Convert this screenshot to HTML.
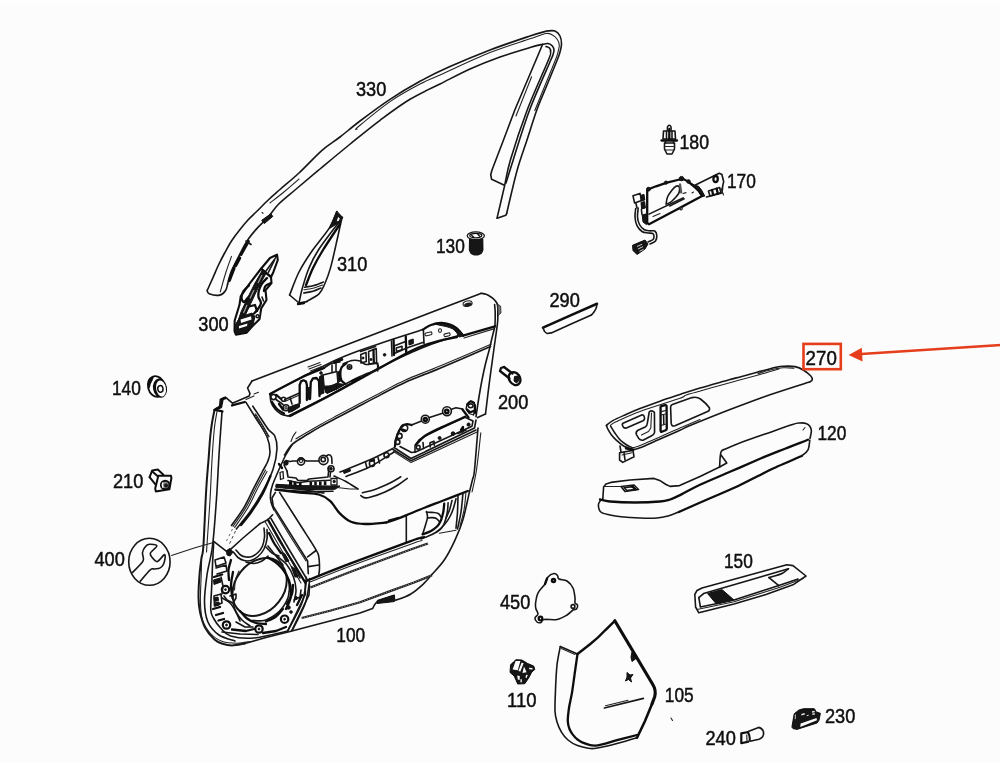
<!DOCTYPE html>
<html lang="en">
<head>
<meta charset="utf-8">
<title>Door panel parts diagram</title>
<style>
html,body{margin:0;padding:0;background:#fcfcfc;}
body{width:1000px;height:762px;overflow:hidden;position:relative;font-family:"Liberation Sans",sans-serif;}
svg{position:absolute;left:0;top:0;display:block;}
.l{fill:none;stroke:#161616;stroke-width:1.6;stroke-linecap:round;stroke-linejoin:round;}
.t{fill:none;stroke:#222;stroke-width:1.1;stroke-linecap:round;stroke-linejoin:round;}
.k{fill:none;stroke:#0c0c0c;stroke-width:2.3;stroke-linecap:round;stroke-linejoin:round;}
.f{fill:#121212;stroke:#121212;stroke-width:1;stroke-linejoin:round;}
.g{fill:#555;stroke:#222;stroke-width:1;stroke-linejoin:round;}
.w{fill:#fcfcfc;stroke:#161616;stroke-width:1.3;stroke-linejoin:round;}
.r{fill:none;stroke:#e63c1a;stroke-width:2.6;}
text{font-family:"Liberation Sans",sans-serif;font-size:21px;fill:#111;stroke:#111;stroke-width:0.5;}
</style>
</head>
<body>
<svg width="1000" height="762" viewBox="0 0 1000 762">
<defs><filter id="soft" x="-2%" y="-2%" width="104%" height="104%"><feGaussianBlur stdDeviation="0.45"/></filter></defs>
<rect x="0" y="0" width="1000" height="762" fill="#fcfcfc"/>
<rect x="0" y="0" width="1000" height="5" fill="#fefefe"/>
<g filter="url(#soft)">
<g id="p330">
<path class="l" d="M207.2,290.5 C208.2,288.3 211.2,281.6 213.1,277.4 C215,273.1 216.5,269.1 218.5,265 C220.5,260.9 222.7,256.5 224.9,252.5 C227.1,248.5 229.1,244.7 231.5,241 C233.9,237.3 236.7,233.6 239.4,230.2 C242.1,226.8 244.7,223.6 247.5,220.5 C250.3,217.4 252.9,215.2 256.4,211.8 C259.8,208.4 264.3,203.7 268.2,200 C272.1,196.3 274.9,194 280,189.5 C285.1,185 292,179.5 299,173 C306,166.5 315.2,156.3 322,150.3 C328.8,144.3 333.7,141.9 340,137 C346.3,132.1 351.7,127.3 360,121 C368.3,114.7 380,105.9 390,99.3 C400,92.7 410,86.8 420,81.3 C430,75.8 438.3,71.8 450,66.6 C461.7,61.4 476.7,55.1 490,50 C503.3,44.9 520.5,39.2 530,36 C539.5,32.8 544.2,31.8 547,31"/>
<path class="l" d="M547,31 C548.3,31 552.8,30.2 555,31 C557.2,31.8 558.9,33.8 560,36 C561.1,38.2 561.5,41.3 561.5,44 C561.5,46.7 560.7,49.3 560,52 C559.3,54.7 559.4,54.5 557.2,60 C555,65.5 550.4,76.7 547,85 C543.6,93.3 540.1,100.8 536.8,110 C533.5,119.2 530.3,130 527,140 C523.7,150 520.6,157.8 517.2,170 C513.8,182.2 508.4,206.1 506.7,213.3"/>
<path class="l" d="M506.7,213.3 L505.8,215.3 L497.1,218.3"/>
<path class="l" d="M207.2,290.5 C207.5,291.1 207.1,293 209.2,293.8 C211.3,294.6 217,295.7 219.7,295.1 C222.4,294.6 224.3,292.4 225.6,290.5 C226.9,288.6 227.3,285.1 227.6,284"/>
<path class="l" d="M227.6,284 C228.2,281.8 229.5,275.7 231.5,270.9 C233.5,266.1 236.8,260.1 239.4,255.1 C242,250.1 244.1,245.3 247.2,240.7 C250.2,236.1 254.2,231.5 257.7,227.6 C261.2,223.7 264.7,220.9 268.2,217 C271.7,213.1 274.2,208.5 278.7,204 C283.2,199.5 288.1,195.8 295,190 C301.9,184.2 311,176.5 320,169 C329,161.5 339,153.1 349,145 C359,136.9 369.8,127.9 380,120.3 C390.2,112.7 400,105.3 410,99.3 C420,93.2 430,89 440,84 C450,79 460,73.5 470,69 C480,64.5 490,60.6 500,57 C510,53.4 522.9,49.6 530,47.5 C537.1,45.4 540.4,44.8 542.5,44.3"/>
<path class="l" d="M542.5,44.5 L536,60 L525.4,85 L514.8,110 L503.5,140 L492,170 L490.7,174.7 L491.6,179.3 L504.4,185.3"/>
<path class="t" d="M357,129.2 C357.2,128.8 353,131.1 358.5,126.5 C364,121.9 379.8,108.7 390,101.6 C400.2,94.5 411.7,88.4 420,84 C428.3,79.6 428.3,80.2 440,75 C451.7,69.8 475,58.6 490,52.6 C505,46.6 520.7,42 530,38.8 C539.3,35.6 542.3,34.2 546,33.5 C549.7,32.8 550.2,33.9 552,34.8 C553.8,35.7 555.8,37.3 557,39 C558.2,40.7 559.2,42.5 559.3,45 C559.4,47.5 558.2,51.4 557.5,54 C556.8,56.6 557.3,55.2 555.2,60.5 C553.1,65.8 548.4,77.2 545,85.5 C541.6,93.8 536.5,106.3 534.8,110.5"/>
<path class="l" d="M542.5,44.5 C543.4,44.3 546.4,43.2 548,43.5 C549.6,43.8 551.4,44.8 552.4,46 C553.4,47.2 554,48.8 554,50.5 C554,52.2 553,54.4 552.5,56 C552,57.6 554.6,51 550.8,60 C547,69 535.9,93.3 529.6,110 C523.3,126.7 517.1,147.8 513.2,160 C509.3,172.2 507.2,179.2 506,183"/>
<path class="l" d="M546,46.5 C546.6,46.8 548.7,47.1 549.5,48 C550.3,48.9 550.8,50 550.6,52 C550.4,54 552.3,50.3 548.4,60 C544.5,69.7 533.5,93.3 527.2,110 C520.9,126.7 514.2,147.2 510.4,160 C506.6,172.8 506.6,176.9 504.4,186.6 C502.2,196.2 498.3,212.7 497.1,217.9"/>
<path class="t" d="M531.6,76.8 L516,116"/>
<path class="f" d="M261.7,220.3 L270.9,213.8 L272.8,216.4 L264.3,223.6Z"/>
<path class="t" d="M262,212.5 L263,213.3"/>
<path class="t" d="M270,203 C272.4,201.1 279.7,195.5 284.5,191.5 C289.3,187.5 296.6,181.1 299,179"/>
<path class="t" d="M231.5,256.4 C230.6,259 227.9,266.1 226,272 C224.1,277.9 221.2,288.6 220.3,291.9"/>
<path d="M229.3,280.5 L234,268.2" stroke="#111" stroke-width="3.2" stroke-linecap="round" fill="none"/>
<path d="M235.5,265.5 L239.5,258" stroke="#111" stroke-width="3.6" stroke-linecap="round" fill="none"/>
<path d="M241,254.5 L248.4,241.2" stroke="#111" stroke-width="3" stroke-linecap="round" fill="none"/>
<path class="l" d="M246,241 L251,244.5"/>
</g>
<text transform="translate(356,96.2) scale(0.867,1)" font-size="24">330</text>
<g id="p310">
<path class="l" d="M336.8,211.5 C335.6,214.2 333.7,221 329.6,227.6 C325.5,234.2 317.1,243.6 312,251 C306.9,258.4 302.7,264.7 299,272 C295.3,279.3 291.2,291.2 289.6,295"/>
<path class="l" d="M289.6,295 L299,303 L307,301.6"/>
<path class="l" d="M342.4,217.2 C342.2,218 342,217.7 341,222 C340,226.3 338.1,235.7 336.3,243.3 C334.6,251 332.4,261.1 330.5,267.9 C328.6,274.6 326.7,279.5 324.8,283.8 C322.9,288.1 322,291 319,293.9 C316,296.8 309,300 307,301.2"/>
<path class="f" d="M336.8,211.2 L342.4,217.2 L340.8,222 L335,225 L329.6,228.4Z"/>
<path class="w" d="M338,215.5 L340.5,218.5 L339.5,221 L335.5,222.5Z"/>
<path class="l" d="M339,222 C335.6,226.7 323.4,242.3 318.4,250 C313.4,257.7 311.7,261.7 309,268 C306.3,274.3 304.1,282.2 302.4,288 C300.7,293.8 299.6,300.5 299,303"/>
<path class="k" d="M340,224 C337.2,228.3 327.5,242.7 323,250 C318.5,257.3 315.8,262.2 313,268 C310.2,273.8 307.2,282.2 306,285"/>
<path class="l" d="M304.5,287.2 C306.1,286.9 310.9,286.4 314,285.5 C317.1,284.6 321.8,282.6 323.3,282"/>
<path class="t" d="M304,289.8 C305.7,289.5 310.9,288.8 314,288 C317.1,287.2 321.1,285.5 322.5,285"/>
<path class="l" d="M303.8,293 C305.3,292.7 310.1,292.1 313,291.3 C315.9,290.5 319.7,288.6 321,288"/>
<path class="k" d="M298,304 L304,303"/>
</g>
<text transform="translate(337,271.2) scale(0.867,1)" font-size="24">310</text>
<g id="p300">
<path d="M277,254.6 L277.8,260 L273.3,272.2 L271,277 L271.5,283 L265.5,290.3 L266.5,300 L261.2,308.4 L259.5,319.3 L252.8,325.8 L246.7,332.6 L235.9,334.6 L234.5,331 L234.7,320.5 L239.5,304.8 L240.7,296.3 L249.2,284.2 L261.2,268.5 L270,258Z" fill="#fcfcfc" stroke="#111" stroke-width="2.1" stroke-linejoin="round"/>
<path class="l" d="M275.7,257.6 L266,271"/>
<path class="l" d="M274.6,260 L268.5,272.2"/>
<path class="k" d="M261.5,269 L271,277"/>
<path class="f" d="M262.5,270 L266.5,272.5 L258,288 L251,303 L244,318 L240,327 L236,327 L241,312 L248,297 L255,283Z"/>
<path d="M262,275 L258,283 M254,290 L250,298.5 M247,305 L243.5,313" stroke="#999" stroke-width="1.3" fill="none"/>
<path class="k" d="M249,285.5 C248.1,286.4 244.8,288.9 243.5,291 C242.2,293.1 241.4,296.2 241.5,298 C241.6,299.8 242.9,302.1 244,302 C245.1,301.9 247.3,298.2 248,297.5"/>
<path class="k" d="M267,278 C266.2,278.9 263.3,281.5 262,283.5 C260.7,285.5 259.6,287.8 259,290 C258.4,292.2 258.2,294.8 258.5,297 C258.8,299.2 261.1,301 261,303 C260.9,305 259.2,307.2 258,309 C256.8,310.8 254.7,312.8 254,313.5"/>
<path class="k" d="M271,283 C270.1,283.5 266.7,284.7 265.5,286 C264.3,287.3 264.2,290.2 264,291"/>
<path class="l" d="M262,297 L263.5,301"/>
<path class="f" d="M240,317 L252,313 L255,316.5 L252.8,325.5 L246.7,332.6 L236,334.5 L234.6,326Z"/>
<path d="M240.5,319.5 L251,316.2 L251.6,319.5 L241,323Z M239,326 L247.5,323.5 L247,326 L239,328.6Z M256.5,314.5 L259.5,313.5 L259,317.5 L256.5,318.5Z" fill="#fcfcfc"/>
<circle class="l" cx="257.6" cy="316.2" r="1.5"/>
<path class="k" d="M249,306.5 L255,305 L257,311"/>
<path class="l" d="M236,331 L246,328.5"/>
</g>
<text transform="translate(198.3,330.7) scale(0.867,1)" font-size="24">300</text>
<g id="p130">
<path class="f" d="M469.5,239 L482.8,239 L483,250 L481.5,253.5 L478,255 L474,255 L470.8,253.5 L469.3,250Z"/>
<ellipse class="w" cx="475.8" cy="235.8" rx="8.6" ry="3.9"/>
<ellipse cx="475.8" cy="235.6" rx="6" ry="2.2" fill="#fcfcfc" stroke="#111" stroke-width="1.2"/>
<path d="M471,234.5 L474,237.5 M477.5,234 L480.5,237" stroke="#111" stroke-width="1.2" fill="none"/>
</g>
<text transform="translate(436,252.5) scale(0.824,1)" font-size="24">130</text>
<g id="p180">
<path class="l" d="M667.5,130 C667.5,129.5 667.2,127.8 667.5,127 C667.8,126.2 668.7,125.3 669.3,125.3 C669.9,125.3 670.7,126.2 671,127 C671.3,127.8 671,129.5 671,130"/>
<path class="l" d="M663.5,131 L675,131 L675.5,139 L663,139Z"/>
<path class="k" d="M661.5,140.5 L677,140.5"/>
<path class="l" d="M666.5,131 L666.5,139"/>
<path class="l" d="M672,131 L672,139"/>
<path class="k" d="M669.3,129 L669.3,139"/>
<path class="l" d="M664.5,143 L674.5,143 L674.5,149 L672,154 L667,154 L664.5,149Z"/>
<path class="t" d="M664.5,146.5 L674.5,146.5"/>
<path class="t" d="M665,150 L674,150"/>
<path class="l" d="M665.5,141 L665.5,143"/>
<path class="l" d="M673.5,141 L673.5,143"/>
</g>
<text transform="translate(679.5,148.7) scale(0.843,1)" font-size="24">180</text>
<g id="p100">
<path class="l" d="M252,381 L440,309 L480.8,293.6"/>
<path class="l" d="M480.8,293.2 C481.7,293.4 484.3,293.7 486,294.3 C487.7,294.9 489.5,296 491,297 C492.5,298 493.9,299.2 495,300.5 C496.1,301.8 497,302.4 497.5,305 C498,307.6 497.8,312.7 497.8,316 C497.8,319.3 498,319.1 497.3,324.8 C496.6,330.5 495,341.2 493.8,350 C492.6,358.8 491.4,366.9 490,377.6 C488.6,388.3 486.2,407.9 485.5,414"/>
<path d="M497.8,304.5 L500.6,306 L501,313 L498,315.5Z" fill="#777" stroke="#222" stroke-width="0.8"/>
<path class="l" d="M485.5,414 L477.6,417.6"/>
<path class="l" d="M494.6,304.5 C494.7,305.8 495.1,309.7 495.2,312 C495.3,314.3 495.2,316.1 495.2,318.4 C495.2,320.7 495,324.7 495,326"/>
<path class="l" d="M478,428 C477.4,435 475.4,461.3 474.5,470 C473.6,478.7 473.3,476.2 472.4,480 C471.5,483.8 470.9,486 469.3,492.6 C467.7,499.2 465.4,511.5 463,519.4 C460.6,527.3 458.2,533.1 455.1,539.8 C452,546.5 448.5,553.7 444.6,559.5 C440.8,565.3 435.6,570.3 432,574.4 C428.4,578.5 426.6,581 423,584.3 C419.4,587.6 414.6,591.7 410.4,594.2 C406.2,596.8 400.5,598.6 397.8,599.6 C395.1,600.6 395,599.9 394.4,600"/>
<path class="t" d="M480.8,432.8 C480.1,439 478,460.1 476.5,470 C475,479.9 472.8,488.3 472,492"/>
<path class="l" d="M394.4,600 L394.2,595.3 L378,600.5 L374.4,605 L372.6,608.6 L360,613.1 L330,621 L290,631.5 L266,637.5 L245,643.5"/>
<path class="l" d="M245,643.5 C242.8,643.8 235.8,645.5 232,645.5 C228.2,645.5 225.4,644.8 222.5,643.8 C219.6,642.8 217.4,642.2 214.5,639.5 C211.6,636.8 207.4,632.1 205,627.5 C202.6,622.9 201.1,617 200,612 C198.9,607 198.6,603.7 198.5,597.5 C198.4,591.3 199,581.6 199.5,575 C200,568.4 200.8,562.9 201.5,558 C202.2,553.1 202.6,557.1 203.4,545.8 C204.2,534.5 205.3,504.3 206.2,490 C207,475.7 207.8,468.8 208.5,460 C209.2,451.2 209.6,443.2 210.2,437 C210.8,430.8 211.3,427.5 212,423 C212.7,418.5 214.1,412 214.5,409.8" style="stroke-width:2"/>
<path class="l" d="M214,410 L219.6,406.4 L220.4,399.2 L226,397.6 L232.4,403.2 L249.2,396 L250,393.6 L247.6,388 L252,381"/>
<path class="l" d="M222,412 C221.5,419.2 219.9,440.3 219,455 C218.1,469.7 217.5,484.8 216.4,500 C215.3,515.2 214.1,533.5 212.5,546 C210.9,558.5 208.3,565.7 207,575 C205.7,584.3 204.4,593.8 204.5,601.6 C204.6,609.4 205.4,616.1 207.8,621.7 C210.2,627.3 214.5,631.8 219,635 C223.5,638.2 232.3,640 235,641"/>
<path class="t" d="M217,411.5 C216.5,414.6 215,421.9 214.2,430 C213.4,438.1 212.7,448.3 212,460 C211.3,471.7 210.8,486.7 210,500 C209.2,513.3 207.9,531.3 207.3,540 C206.7,548.7 206.6,550 206.5,552"/>
<path d="M226,397.6 L222.4,399 L220.8,407 L215.4,409.6" stroke="#111" stroke-width="2.8" stroke-linejoin="round" fill="none"/>
<path class="k" d="M215,409.8 L222.4,411.4"/>
<path class="k" d="M232,405.4 L244.8,402"/>
<path class="t" d="M246,399.5 L254,396"/>
<path class="t" d="M254,394 L258.5,392.3"/>
<path class="l" d="M270,394 C281,388.3 317.7,368.4 336,360 C354.3,351.6 365.5,348.6 380,343.5 C394.5,338.4 415.8,331.9 423,329.6"/>
<path class="l" d="M270,394 C270.2,395.3 270.2,399.5 271,402 C271.8,404.5 273.3,407 275,409 C276.7,411 278.8,412.8 281,414 C283.2,415.2 286.8,415.7 288,416"/>
<path class="l" d="M288,416 C294.7,412.7 313,403.9 328,396 C343,388.1 362.2,376.6 378,368.5 C393.8,360.4 409.8,352.9 423,347.5 C436.2,342.1 450.3,337.9 457,336 C463.7,334.1 462,336 463,336"/>
<path class="k" d="M423,329.6 C424.3,328.8 428,326.1 431,325 C434,323.9 437.6,323.1 440.8,323 C444,322.9 447.3,323.6 450,324.5 C452.7,325.4 454.6,326.7 456.8,328.5 C459,330.3 462,334.3 463,335.5"/>
<path class="k" d="M463,335.6 L495,326.3"/>
<path class="t" d="M464,338 L494.5,328.6"/>
<path class="t" d="M308,367 L320,362.5"/>
<path class="t" d="M309,369 L321,364.5"/>
<path class="t" d="M310.5,371 L322,366.5"/>
<ellipse class="t" cx="467.6" cy="303.6" rx="4.6" ry="2.7" transform="rotate(-12 467.6 303.6)"/>
<ellipse cx="468" cy="304.6" rx="3.9" ry="2" fill="#1a1a1a" transform="rotate(-12 468 304.6)"/>
<path class="l" d="M284.5,455 C285.1,454.1 286.7,451.3 288,449.5 C289.3,447.7 290.7,445.8 292.2,444.4 C293.7,442.9 294.4,442.5 297,440.8 C299.6,439.1 304,436.4 308,434 C312,431.6 315.8,429.3 321,426.4 C326.2,423.5 333,420 339,416.8 C345,413.6 350,410.9 357,407.2 C364,403.5 373,398.7 381,394.6 C389,390.5 395.2,386.8 405,382.4 C414.8,378 425.8,374.2 440,368.2 C454.2,362.2 482.1,350.1 490.5,346.5"/>
<path class="t" d="M296,438.8 C298,437.6 303.8,434.2 308,431.8 C312.2,429.4 315.8,427.1 321,424.2 C326.2,421.3 333,417.8 339,414.6 C345,411.4 350,408.7 357,405 C364,401.3 373,396.5 381,392.4 C389,388.3 395.2,384.6 405,380.2 C414.8,375.8 425.7,372 440,366 C454.3,360 482.5,347.8 491,344.2"/>
<path class="t" d="M291,441.5 C291.3,440.7 292.2,438.1 293,436.5 C293.8,434.9 295.5,432.8 296,432"/>
<path class="l" d="M495,326 C494.5,328 493,334 492,338 C491,342 490.3,345.7 489.2,350 C488.1,354.3 486.7,358.8 485.5,363.8 C484.3,368.8 483.2,374 482,380 C480.8,386 479.5,393.9 478.5,400 C477.5,406.1 476.4,414 476,416.8"/>
<path class="l" d="M246,402.4 C247.8,405.3 253.5,414.4 257,420 C260.5,425.6 264.6,430.7 266.8,436 C269,441.3 269.9,447.7 270,452 C270.1,456.3 268.8,458.7 267.5,462 C266.2,465.3 264.4,467.7 262.2,472 C259.9,476.3 256.9,481.9 254,487.7 C251.1,493.5 248.2,500.3 244.5,506.6 C240.8,512.9 233.7,522.4 231.5,525.5"/>
<path class="t" d="M265.5,470 C263.9,473.1 258.9,482.2 255.6,488.4 C252.3,494.6 249.8,501.1 246,507.4 C242.2,513.7 235.2,523.2 233,526.4"/>
<path class="t" d="M267,471.5 C265.4,474.4 260.4,483.1 257.2,489.2 C254,495.3 251.4,501.8 247.6,508.2 C243.8,514.6 236.8,524.2 234.6,527.4"/>
<path class="l" d="M252.8,406.2 C254.2,408.2 258.4,414.6 261,418.5 C263.6,422.4 266.1,426.7 268.4,429.6 C270.7,432.5 273.4,432.8 274.8,436 C276.2,439.2 277.3,443.2 277,448.8 C276.7,454.4 275.5,462.3 273,469.6 C270.5,476.9 266,485.4 262.2,492.4 C258.4,499.3 254.7,505.2 250.4,511.3 C246.1,517.4 238.7,526 236.3,529"/>
<path class="k" d="M270.5,476 C269.2,478.9 266,487.5 262.8,493.5 C259.6,499.5 254.8,507 251.2,512.2 C247.6,517.5 242.7,522.9 241,525"/>
<path d="M235.5,531 L228.5,546" stroke="#333" stroke-width="0.9" stroke-dasharray="3 2.5" fill="none"/>
<path d="M232.5,529 L226.5,541" stroke="#444" stroke-width="0.8" stroke-dasharray="2.5 3" fill="none"/>
<path d="M254.5,414 L262,426 L268.5,437.5" stroke="#1c1c1c" stroke-width="3" fill="none"/>
<path d="M254.5,414 L262,426 L268.5,437.5" stroke="#c8c8c8" stroke-width="0.8" stroke-dasharray="1 1.6" fill="none"/>
<path class="l" d="M292.2,444.4 C291.1,446.2 287.7,451.2 285.5,455.5 C283.3,459.8 281,465.1 278.8,470 C276.6,474.9 273.9,481.1 272.5,485 C271.1,488.9 270.8,490.8 270.5,493.6 C270.2,496.4 270.4,499.3 271,502 C271.6,504.7 273.5,508.7 274,510"/>
</g>
<text transform="translate(336.3,642.2) scale(0.824,1)" font-size="24">100</text>
<g id="p100mech">
<path class="k" d="M290,416 C296.3,412.8 313.3,404.3 328,396.5 C342.7,388.7 364.7,376.3 378,369 C391.3,361.7 400.2,356.5 408,352.5 C415.8,348.5 418.8,347.3 424.8,345.2 C430.8,343.1 438.6,341 444,339.6 C449.4,338.2 454.8,337.4 457,337"/>
<path class="k" d="M270,394 C275.2,391.3 292,382 301,377.7 C310,373.4 320.2,369.6 324,368"/>
<path class="f" d="M436,324.2 C436.2,323.9 438.6,323.2 441,323.3 C443.4,323.4 447.4,323.9 450.4,325 C453.4,326.1 456.7,328.5 458.8,330.2 C460.9,331.9 463.2,333.9 463.2,335 C463.2,336.1 460.1,337.2 459,336.8 C457.9,336.4 457.8,334.1 456.7,332.8 C455.6,331.5 454.2,329.8 452.5,328.8 C450.8,327.8 448.3,327.2 446.2,326.6 C444.1,326 441.7,325.7 440,325.3 C438.3,324.9 435.8,324.5 436,324.2Z"/>
<circle class="l" cx="273.5" cy="397" r="2.6"/>
<circle class="l" cx="286" cy="407.8" r="3"/>
<circle class="t" cx="286" cy="407.8" r="1.2"/>
<path class="l" d="M276,399.5 L283,404.5"/>
<path class="k" d="M272,402 C272.8,403.2 275,407.1 277,409 C279,410.9 282.8,412.8 284,413.5"/>
<path class="l" d="M284.8,399.5 L299.5,393"/>
<path class="t" d="M285.3,401.3 L299.5,395"/>
<circle class="l" cx="283.5" cy="399.2" r="2"/>
<path class="k" d="M299.7,403 L299.7,385 L301,381.4 L303.5,380.3 L306,381.6 L306.9,385 L306.9,400"/>
<path class="k" d="M310,399 L310.8,382 L313,378.4 L316.5,378 L319,381 L319.5,396"/>
<path class="f" d="M307.2,388 L310.4,387 L310,398.6 L307.2,399.6Z"/>
<path class="f" d="M288,408 L293,405.5 L299.5,403.5 L299.6,407 L292,411.5 L288.5,412.5Z"/>
<path class="k" d="M276.5,395 L281,399"/>
<path class="k" d="M279,404 L283,409.5"/>
<path class="l" d="M290,397.5 L292,404"/>
<path class="f" d="M324.5,387.5 L338,383.5 L345,384.5 L338,388.5 L327,393.5Z"/>
<path class="f" d="M338,372 L340.5,370.5 L340.8,381 L338.2,382.5Z"/>
<path class="l" d="M306.9,392 L310,391"/>
<path class="f" d="M319.5,376.5 L323,374.8 L324,393 L320,394.6Z"/>
<path class="l" d="M323,375 L337,371.5 L338,383 L331,386.5 L324,386Z"/>
<path class="f" d="M324,387 L331,387.5 L336,385 L337,389 L326,393Z"/>
<circle class="f" cx="321" cy="373" r="1.3"/>
<path class="l" d="M324,368 L330,364 L336,362.5 L340,362"/>
<path class="f" d="M333,361.5 L342,358 L343,360 L334,363.5Z"/>
<path class="l" d="M332,365 L332,372"/>
<path class="l" d="M336,363.5 L336,371"/>
<path class="k" d="M346.5,363 C345.7,363.8 342.6,365.7 341.5,367.5 C340.4,369.3 340.2,371.8 340.2,374 C340.2,376.2 340.6,378.8 341.5,380.5 C342.4,382.2 344.8,383.4 345.5,384"/>
<path class="l" d="M343,364 C344.5,363.4 349.2,361 352,360.5 C354.8,360 357.7,360.3 360,361 C362.3,361.7 363.2,364.1 366,364.5 C368.8,364.9 374.6,362.7 376.5,363.5 C378.4,364.3 379.1,367.8 377.5,369.5 C375.9,371.2 370.2,372.2 367,373.5 C363.8,374.8 360.5,376.3 358,377.5 C355.5,378.7 354.1,379.4 352,380.5 C349.9,381.6 346.6,383.4 345.5,384"/>
<circle class="l" cx="349.5" cy="367" r="2.2"/>
<circle class="f" cx="349.5" cy="367" r="0.9"/>
<path class="k" d="M352,381 L360,378"/>
<path class="l" d="M360.8,354.5 L366,352.5 L366.3,361.5 L361,363Z"/>
<path class="l" d="M368.6,351.5 L376.2,348.6 L376.6,362.8 L369,364Z"/>
<path class="k" d="M373.5,350 L373.8,362"/>
<circle class="f" cx="363" cy="358" r="1"/>
<circle class="f" cx="371" cy="359.5" r="1"/>
<circle class="f" cx="384.6" cy="354.8" r="1.3"/>
<path class="l" d="M377.7,371 L377.7,363"/>
<path class="k" d="M393.6,340 L394,355"/>
<path class="l" d="M391.5,341 L392,356"/>
<path class="k" d="M405.8,336.5 L406.2,352.5"/>
<path class="l" d="M423.4,330.5 L424,343.5"/>
<path class="l" d="M394.8,353.3 L408,347.6 L423.6,342.3"/>
<path class="l" d="M396.2,348 L402,346.2 L402,349.8 L396.4,351.4Z"/>
<path class="f" d="M408.8,340.5 L413.2,339 L413.4,343.5 L409,345Z"/>
<path class="l" d="M394,346 L405.5,341.5"/>
<rect x="425" y="332.6" width="7" height="2.8" rx="1.2" transform="rotate(-14 428 334)" class="t"/>
<rect x="444" y="333.4" width="6.2" height="2.8" rx="1.2" transform="rotate(-14 447 335)" class="t"/>
<ellipse class="t" cx="440" cy="330.6" rx="1.5" ry="1.9"/>
<path class="l" d="M360.5,351.5 L375.5,346.5"/>
</g>
<g id="p100arm">
<path class="l" d="M284,462.5 L286,460.5 L290,461.5 L293,461 L297.5,461 L301,457.8 L305,460.5 L307,461 L319,461"/>
<circle class="f" cx="286" cy="463" r="2.2"/>
<circle class="l" cx="301" cy="461.5" r="3.6"/>
<circle class="t" cx="301" cy="461" r="1.6"/>
<circle class="l" cx="323.5" cy="460" r="4.6"/>
<circle class="l" cx="323.2" cy="459.6" r="2.2"/>
<path class="l" d="M326,456.2 C326.5,456 328.1,454.7 329,454.8 C329.9,454.9 331,455.6 331.5,457 C332,458.4 331.9,462.4 332,463.5"/>
<circle class="l" cx="331" cy="468.8" r="3"/>
<circle class="f" cx="331" cy="468.8" r="1.3"/>
<path class="l" d="M330.5,472 L330,477"/>
<path class="l" d="M287,471 L288,477 L296,478 L298,480.5 L307,480.5 L309,479 L328,477 L329,467"/>
<path class="l" d="M284,465 L287,471"/>
<path class="w" d="M331,478.5 L337,478.5 L337,485 L331,485Z"/>
<circle class="f" cx="334.2" cy="481.5" r="1.2"/>
<path class="f" d="M276,484.3 L300,485.6 L331,486 L340,486 L335,489.3 L305,489.5 L276,487.6Z"/>
<path class="l" d="M276,489.6 L305,491.6 L333,491.3"/>
<path d="M289,480.5 h3.2 v4.5 h-3.2z M293.5,481.5 h3 v4 h-3z M299,483 h2.6 v3 h-2.6z M309.5,481.8 h2.6 v4 h-2.6z M314.2,481.6 h2.6 v4 h-2.6z M319,481.4 h2.6 v4 h-2.6z M323.8,481.2 h2.6 v4 h-2.6z" fill="#111"/>
<path class="l" d="M288,480.5 L298,482.8 L309,481.3 L330,480.3"/>
<path class="w" d="M280,472.5 L283,471.5 L283.5,478.5 L280.5,479.5Z"/>
<path class="k" d="M279,464 L282,468"/>
<path class="l" d="M340,472 C345,470 361.2,463.7 370,459.8 C378.8,455.9 389,450.4 392.8,448.5"/>
<path class="l" d="M346,476.5 C350,474.9 362,470.9 370,466.8 C378,462.7 390,454.5 394,452"/>
<path class="l" d="M334,476 C336,476.9 342,479.3 346,481.5 C350,483.7 356,487.8 358,489"/>
<path class="t" d="M337,487.5 L350,489 L358,489"/>
<path class="f" d="M343.5,471.5 L350,469 L350.5,471 L344,473.5Z"/>
<path class="l" d="M365.5,462.5 L367,468"/>
<ellipse class="l" cx="372" cy="463.5" rx="2.6" ry="3"/>
<path class="k" d="M371,461 L374,460"/>
<path class="l" d="M378,457.5 L379.5,463"/>
<circle class="l" cx="386.5" cy="455.2" r="2.5"/>
<path class="l" d="M362.4,492.8 C364.5,492.2 370.4,491.1 375,489.5 C379.6,487.9 385.7,485.1 390,483 C394.3,480.9 399,477.8 400.8,476.8"/>
<path class="l" d="M360.8,495.5 C361.3,495.9 362.5,497.3 364,497.6 C365.5,497.9 366.5,498.2 370,497.3 C373.5,496.4 380.3,494.1 385,492 C389.7,489.9 394.3,487.3 398,485 C401.7,482.7 405.7,479.5 407.2,478.4"/>
<path class="k" d="M395,446 C395.2,444.8 395.3,441.5 396,439 C396.7,436.5 397.9,433.2 399,431 C400.1,428.8 401.2,427.1 402.5,426 C403.8,424.9 405.5,424.4 407,424.2 C408.5,424 410.8,424.9 411.5,425"/>
<path class="l" d="M411.5,425 L421,421.3"/>
<circle class="l" cx="404.3" cy="428" r="3.4"/>
<path class="k" d="M402.5,429.5 L405.5,430.5"/>
<circle class="l" cx="399.5" cy="436" r="2.6"/>
<circle class="l" cx="397.5" cy="442" r="2.4"/>
<circle class="l" cx="425.3" cy="419.2" r="4"/>
<circle class="k" cx="425.3" cy="419.4" r="1.6"/>
<path class="l" d="M429.5,417.5 L442.5,413.2"/>
<circle class="l" cx="447" cy="411.2" r="4.4"/>
<circle class="k" cx="446.8" cy="411.4" r="1.7"/>
<path class="l" d="M451.5,409.2 L456,407.8 L462.5,409"/>
<path class="w" d="M467,404 L470.5,401 L474.3,402.5 L475,409 L473.5,415 L469,413.5 L466,409Z"/>
<path class="k" d="M467.3,404.5 C467.8,404 469.4,401.8 470.5,401.5 C471.6,401.2 473.4,402.8 474,403"/>
<path class="k" d="M467,409.5 C467.5,409.9 468.9,411.8 470,412 C471.1,412.2 472.9,411.2 473.5,411"/>
<ellipse class="l" cx="470.6" cy="405.8" rx="2.4" ry="1.9"/>
<path class="k" d="M474.8,405 L475,413"/>
<path class="k" d="M462.5,409.5 L468.5,417.5"/>
<path class="l" d="M394,447.5 L411,458.5 L474.5,428 L476,420"/>
<path class="l" d="M393,449.5 L411,460.8 L476,430"/>
<path class="t" d="M393.5,451.5 L411,462.6 L477,432"/>
<path class="l" d="M415,445.5 L419,440 L425,436 L441,428.2 L465,417.2 L473,421 L472,426.2 L415,452.3Z"/>
<path class="k" d="M416,444.5 C417.6,443 421.3,438.3 425.5,435.5 C429.7,432.7 434.4,430.7 441,427.6 C447.6,424.5 461,418.6 465,416.8"/>
<circle class="l" cx="418.2" cy="447.3" r="1.9"/>
<path class="l" d="M423,442.5 L423.5,448.5"/>
<path class="l" d="M430.2,447 L430,442.8 L434,441.2 L434.3,445.2"/>
<circle class="f" cx="439.6" cy="438" r="1.5"/>
<circle class="f" cx="453" cy="433.6" r="1.8"/>
<circle class="f" cx="468.6" cy="424.6" r="1.6"/>
<path class="k" d="M461,430 L463,427 L462.5,431.5"/>
<path class="l" d="M458,433.5 L466,430"/>
<path class="l" d="M400,446.5 L411.5,452.5 L415,452"/>
</g>
<g id="p100low">
<path class="k" d="M275.4,489.6 C279.5,490.1 292.8,491.7 300,492.5 C307.2,493.3 313.8,493.1 318.8,494.5 C323.8,495.9 326.5,497.7 330,500.8 C333.5,503.9 336.3,509.9 339.8,513.4 C343.3,516.9 346.8,520 351,521.8 C355.2,523.6 359.2,523.9 365,524 C370.8,524.1 382.5,522.8 386,522.5"/>
<path class="k" d="M386,522.5 C387.5,522 391.7,520.8 395,519.6 C398.3,518.4 401.1,517.4 406,515.4 C410.9,513.4 418.5,510.2 424.5,507.8 C430.5,505.4 434.8,503.8 442,501 C449.2,498.2 463.5,492.7 467.8,491"/>
<path class="l" d="M276,486.4 C280.8,487 297,488.9 305,490 C313,491.1 320.8,492.5 324,493"/>
<path class="l" d="M406.3,516.5 L406.3,542"/>
<path class="l" d="M422.6,534.2 C423.1,532.7 424.7,527.8 425.5,525 C426.3,522.2 427.3,519.7 427.5,517.5 C427.7,515.3 426.7,512.6 426.5,511.6"/>
<path class="l" d="M426.5,512.2 C427.4,512.2 430,512.2 432,512.4 C434,512.6 436.8,512.6 438.3,513.5 C439.9,514.4 440.8,516.8 441.3,517.5"/>
<path class="l" d="M427.5,518 C428.2,517.9 430.5,517.5 432,517.6 C433.5,517.7 435.1,517.9 436.3,518.5 C437.5,519.1 438.8,521 439.3,521.5"/>
<path class="k" d="M444.2,503.7 C444.1,504.8 443.9,507.9 443.6,510 C443.3,512.1 442.7,514.6 442.2,516.5 C441.7,518.4 441.2,519.9 440.4,521.5 C439.6,523.1 438.9,524.7 437.3,526.3 C435.7,527.9 433.4,529.6 431,531 C428.6,532.4 424,533.8 422.6,534.4"/>
<path class="l" d="M448.1,502.7 C448,503.9 447.9,507.5 447.6,510 C447.3,512.5 446.8,515.2 446.2,517.5 C445.6,519.8 445,522 444,524 C443,526 442.3,527.5 440.3,529.3 C438.3,531 435.2,532.9 432,534.5 C428.8,536.1 422.8,538.2 421,539"/>
<path class="l" d="M456,498.8 C455.5,500.6 454,506.7 453,509.6 C452,512.6 451.1,514.4 450,516.5 C448.9,518.6 447.6,520.5 446.2,522.4 C444.8,524.3 443.1,526.2 441.5,527.8 C439.9,529.4 437.2,531.5 436.3,532.2"/>
<path class="l" d="M452,500.5 C451.6,502.1 450.5,507.1 449.5,510 C448.5,512.9 446.6,516.7 446,518"/>
<path class="l" d="M458,495.8 C457.9,498.5 457.8,506.6 457.5,512 C457.2,517.4 456.2,525.6 456,528.3"/>
<path class="l" d="M462.9,493.9 C462.6,496.9 461.9,506.1 461,512 C460.1,517.9 458.1,526.2 457.5,529"/>
<path class="t" d="M465.9,492.9 C465.6,495.8 465,504.5 464,510 C463,515.5 460.7,523.3 460,526"/>
<path class="t" d="M439.3,533.2 L456,530.3"/>
<path class="k" d="M389,520.5 L398,518"/>
<path class="k" d="M306,580.8 C306.7,580.5 303.1,582.1 310.4,579.2 C317.7,576.3 333.4,569.9 350,563.6 C366.6,557.3 398.7,545.6 410,541.4 C421.3,537.2 415.7,539.3 418,538.6 C420.3,537.9 423,537.3 424,537"/>
<path class="t" d="M310.4,581.8 C317,579.2 333.4,572.4 350,566.2 C366.6,560 398,548.7 410,544.4 C422,540.1 420,541.1 422,540.5"/>
<path d="M310.4,587.6 L350,572 L410,549.8 L428,543.5" stroke="#1c1c1c" stroke-width="2.1" fill="none"/>
<path d="M310.4,587.6 L350,572 L410,549.8 L428,543.5" stroke="#c8c8c8" stroke-width="0.7" stroke-dasharray="1.1 1.5" fill="none"/>
<path d="M301.6,618 L330,610.8 L360,602.3 L391.5,590.6 L414,582.5 L432,575.3" stroke="#1c1c1c" stroke-width="2.2" fill="none"/>
<path d="M301.6,618 L330,610.8 L360,602.3 L391.5,590.6 L414,582.5 L432,575.3" stroke="#c8c8c8" stroke-width="0.7" stroke-dasharray="1.1 1.5" fill="none"/>
<path class="f" d="M378,600.5 L394.2,595.3 L394.6,601.5 L388,602.3 L377,603.5Z"/>
<path class="l" d="M275.4,492.4 L272,498 L273.3,506.4 L290,533 L307.6,561 L308.3,573.6"/>
<path class="l" d="M279.6,492.4 C283,497.8 293.9,514.9 300,524.5 C306.1,534.1 312.9,544.4 316,549.8 C319.1,555.2 318.2,553.8 318.8,556.8 C319.4,559.8 319.5,565 319.5,568 C319.5,571 318.9,573.8 318.8,575"/>
<path class="t" d="M274.7,510.6 L290,536 L306,561"/>
<path class="l" d="M307.6,556.8 L316,550.5"/>
<path class="l" d="M308.3,566.6 L318.8,565"/>
<path class="l" d="M306,577 C306,578.1 306.7,579.3 306,583.8 C305.3,588.2 304.6,596 301.6,603.8 C298.6,611.6 290.3,626.1 288,630.6"/>
<path class="l" d="M309.5,578.5 C309.4,579.6 309.8,580.8 309,585 C308.2,589.2 307.8,596.5 305,604 C302.2,611.5 294.6,625.7 292.5,630"/>
</g>
<g id="p100spk">
<path class="l" d="M213.7,541.4 L227.5,552.2"/>
<path class="l" d="M213.7,542 C213.5,545.8 212.8,557.5 212.5,565 C212.2,572.5 212,579.2 211.7,586.7 C211.4,594.2 210.4,604.9 210.8,610.3 C211.2,615.7 212.4,616 214,619 C215.6,622 217.8,625.2 220.6,628 C223.3,630.8 224.9,634.3 230.5,636 C236.1,637.7 244.5,638.8 254,638 C263.5,637.2 282,632.2 287.6,631"/>
<path class="l" d="M287.6,631 L305.3,594.5 L305.3,582.7"/>
<path class="k" d="M267.9,519.7 L286,551 L305.3,582.7"/>
<path class="l" d="M271,518.5 L290,551 L308,581"/>
<path class="t" d="M265,521.5 L283,552.5 L301,583"/>
<path class="l" d="M260,523.6 L267.9,519.7 L272.6,514.8"/>
<path class="l" d="M227.5,552.2 L243,538 L260,523.6"/>
<path class="l" d="M291.5,631 L309,595 L309.5,585"/>
<path class="l" d="M233.4,552 C234.2,552.9 236.2,556.1 238,557.5 C239.8,558.9 241.8,560 244,560.5 C246.2,561 248.7,561.2 251,560.5 C253.3,559.8 255.8,558.4 258,556.5 C260.2,554.6 262.5,551.9 264,549 C265.5,546.1 266.5,542.2 267,539 C267.5,535.8 267,531.1 267,529.5"/>
<path class="l" d="M236,550 C236.8,550.8 238.8,553.8 240.5,555 C242.2,556.2 244.1,556.8 246,557 C247.9,557.2 250,557.2 252,556.5 C254,555.8 256.2,554.2 258,552.5 C259.8,550.8 261.4,548.6 262.5,546 C263.6,543.4 264.2,540 264.5,537 C264.8,534 264.1,529.5 264,528"/>
<path class="f" d="M226.5,550.5 L230,548.5 L233,552 L230,556 L227,555Z"/>
<ellipse cx="259.6" cy="587" rx="31.3" ry="24.3" transform="rotate(-52 259.6 587)" fill="none" stroke="#141414" stroke-width="2"/>
<path class="l" d="M276,563 C277.3,564.3 281.8,567.7 284,571 C286.2,574.3 288.2,578.8 289,583 C289.8,587.2 289.5,592 288.5,596 C287.5,600 285.2,603.8 283,607 C280.8,610.2 278.2,612.8 275,615 C271.8,617.2 267.8,619.6 264,620.5 C260.2,621.4 254,620.5 252,620.5"/>
<path class="k" d="M283,609 C281.8,610.2 278.8,614.4 276,616.5 C273.2,618.6 267.7,620.7 266,621.5"/>
<path class="t" d="M239,571 C238.4,572.5 236.2,576.8 235.5,580 C234.8,583.2 234.7,588.3 234.5,590"/>
<circle cx="225.5" cy="589.6" r="3.7" fill="#fcfcfc" stroke="#111" stroke-width="2.2"/>
<circle class="f" cx="225.5" cy="589.6" r="0.9"/>
<circle cx="226.5" cy="625" r="3.7" fill="#fcfcfc" stroke="#111" stroke-width="2.2"/>
<circle class="f" cx="226.5" cy="625" r="0.9"/>
<circle cx="259" cy="629" r="3.7" fill="#fcfcfc" stroke="#111" stroke-width="2.2"/>
<circle class="f" cx="259" cy="629" r="0.9"/>
<circle cx="284.6" cy="619.2" r="3.7" fill="#fcfcfc" stroke="#111" stroke-width="2.2"/>
<circle class="f" cx="284.6" cy="619.2" r="0.9"/>
<path class="k" d="M268,557.5 C269.7,558.6 275,561.2 278,564 C281,566.8 283.9,570.3 286,574 C288.1,577.7 289.8,582 290.5,586 C291.2,590 291.2,594.2 290.5,598 C289.8,601.8 286.8,607.2 286,609"/>
<path class="l" d="M277.5,556.5 C279.1,557.9 284.3,561.6 287,565 C289.7,568.4 292,572.8 293.5,577 C295,581.2 295.9,585.8 296,590 C296.1,594.2 294.3,600 294,602"/>
<path class="k" d="M240,611 C241.2,612.2 244.3,616.5 247,618.5 C249.7,620.5 252.8,622.1 256,623 C259.2,623.9 264.3,623.8 266,624"/>
<path class="l" d="M233,603 C233.5,604.5 234.5,609.2 236,612 C237.5,614.8 239.7,617.7 242,620 C244.3,622.3 248.7,625 250,626"/>
<path class="k" d="M233,572 C232.7,574.2 231.1,580.7 231,585 C230.9,589.3 232.2,595.8 232.5,598"/>
<path class="l" d="M246,562 C247.3,562.2 251.3,563.7 254,563.5 C256.7,563.3 259.7,562.2 262,561 C264.3,559.8 267,556.8 268,556"/>
<path class="l" d="M266,547 C267,548 269.8,551.5 272,553 C274.2,554.5 277.8,555.5 279,556"/>
<path class="k" d="M269,533 C269.8,534.7 272,539.7 274,543 C276,546.3 279.8,551.3 281,553"/>
<path class="l" d="M273,529 C274,530.8 276.7,536 279,540 C281.3,544 284.5,548.8 287,553 C289.5,557.2 291.8,560.8 294,565 C296.2,569.2 299,575.8 300,578"/>
<path class="f" d="M281,552 L285,554 L289,561 L286,562Z"/>
<path class="f" d="M291,566 L295,569 L298,577 L295,577Z"/>
<path class="l" d="M215,560 L224,557 L226,563 L216,566.5Z"/>
<path class="l" d="M216,568 L226,565 L227,571 L217,574"/>
<path class="k" d="M214,577 L222,574.5"/>
<path class="f" d="M213.5,580 L220,578 L221,582 L214,584.5Z"/>
<path class="l" d="M221,577 L223,586 L222,594"/>
<path class="l" d="M214,596 L221,594 L222,603 L214.5,606Z"/>
<path class="f" d="M214,598 L218,597 L218.5,600.5 L214.5,601.5Z"/>
<path class="f" d="M214.5,603 L219,602 L219.5,605 L215,606Z"/>
<path class="k" d="M213,609 L220,607"/>
<path class="k" d="M216,615 L223,613"/>
<path class="k" d="M218.5,620.5 L224,619"/>
<path class="l" d="M222,598 C223.3,598.8 227.7,600.7 230,603 C232.3,605.3 234.3,609 236,612 C237.7,615 239.3,619.5 240,621"/>
<path class="l" d="M224,596 L227,600 L233,603 L236,598 L236,594 L230,596"/>
<path class="k" d="M231,560 C230.6,561.7 228.8,566.7 228.5,570 C228.2,573.3 228.9,578.3 229,580"/>
<path class="l" d="M222,632 L240,634 L258,634.5"/>
<path class="k" d="M232,629.5 L246,631 L254,629"/>
<path class="l" d="M236,622 L245,627 L253,627"/>
<path class="k" d="M263,633 L276,631 L286,627"/>
<path class="k" d="M287,604 C287.8,602.3 291,597.2 292,594 C293,590.8 292.8,586.5 293,585"/>
<path class="l" d="M294,600 L300,597 L301,590"/>
<circle class="f" cx="288.5" cy="607.5" r="1.8"/>
<circle class="f" cx="296" cy="598" r="1.5"/>
<circle class="f" cx="291" cy="612" r="1.3"/>
<path class="k" d="M297,605 L302,595"/>
<path class="l" d="M268,546 C269.3,547.7 273.5,552.8 276,556 C278.5,559.2 281.8,563.5 283,565"/>
<path class="t" d="M201.6,560 C201.5,562.5 201.4,568.1 201.2,575 C201,581.9 200.2,594 200.4,601.5 C200.6,609 200.8,614.7 202.5,620 C204.2,625.3 207.2,629.9 210.5,633.5 C213.8,637.1 218,640 222.5,641.6 C227,643.2 232.9,643.2 237.5,643.2 C242.1,643.2 247.9,641.8 250,641.5"/>
<path class="t" d="M171.5,555.4 L195,547.8 L213.5,542.5"/>
</g>
<g id="p170">
<path d="M647.2,189.8 L656,186.3 L667,182.6 L679.6,179.5 L683.2,179 Q687,180.5 690.4,183.5 Q695,187 698.5,190.7 L702.1,196.1 L675,210.5 L649,224.2 L647.2,223 Z" fill="#fcfcfc" stroke="#0e0e0e" stroke-width="2.3" stroke-linejoin="round"/>
<path class="f" d="M688,181.5 L694.9,185.3 L698.5,186.2 L701.5,190 L704.8,196.1 L702.1,196.6 L698.5,191 L693,186Z"/>
<path class="l" d="M649,214.1 L683.2,197.9"/>
<path class="t" d="M653,216.5 L660,213.5"/>
<path class="l" d="M666.1,204.2 C666.3,203 666.6,199.2 667.5,197 C668.4,194.8 670.1,192.5 671.5,190.7 C672.9,188.9 674.8,186.9 676,186.2 C677.2,185.5 678.4,186.1 679,186.6 C679.6,187.1 679.6,187.9 679.6,189 C679.6,190.1 679.4,192 678.7,193.4 C678,194.8 676.7,196.2 675.5,197.5 C674.3,198.8 672.8,200.4 671.5,201.5 C670.2,202.6 668.2,203.4 667.5,203.8"/>
<path d="M680,184.4 L681.2,192.5" stroke="#555" stroke-width="2.2" stroke-linecap="round" fill="none"/>
<path class="l" d="M669.7,206 L684.1,198.8"/>
<path class="t" d="M683,193.5 L686,192.6"/>
<path class="t" d="M692,193 L693.5,192"/>
<circle class="f" cx="648.5" cy="189.2" r="1.9"/>
<circle class="f" cx="666" cy="182.6" r="1.6"/>
<circle class="f" cx="681.5" cy="178.6" r="2.2"/>
<circle class="f" cx="688.5" cy="181.5" r="1.8"/>
<circle class="t" cx="681" cy="208.6" r="1.3"/>
<path class="l" d="M694.9,185.3 L719.2,173.2 L721.9,174.5 L723.7,181.7 L722.8,185.3 L722,193 L706.6,197"/>
<ellipse class="k" cx="715.6" cy="179" rx="2.2" ry="3"/>
<path class="l" d="M708.4,191 L719.5,187.6 L721,192.6 L710,196Z"/>
<path class="k" d="M712,190 L713.2,195"/>
<path class="k" d="M716.6,188.6 L717.8,193.8"/>
<path class="t" d="M721,188 L723.5,195"/>
<path class="l" d="M633,195.8 L640,193.4 L641.6,200.4 L634.6,203Z"/>
<path class="f" d="M640.5,195.4 L644,194.4 L644.8,200 L641.2,201Z"/>
<path class="f" d="M641,202.4 L644.6,201.6 L645.4,208 L641.6,209Z"/>
<path class="f" d="M642.2,215 L646,214 L646.4,224.6 L643,222Z"/>
<path class="l" d="M636,203.5 L637,208"/>
<path class="l" d="M641.4,209.5 L642,214.5"/>
<path class="l" d="M635.7,208.5 C635.6,209.9 634.8,214.2 635,217 C635.2,219.8 635.8,223.2 637,225.6 C638.2,228 640.2,230.3 642,231.5 C643.8,232.7 646.2,232.7 648,233 C649.8,233.3 651.8,232.9 652.8,233.5 C653.8,234.1 654,235.5 654,236.5 C654,237.5 654,238.6 653,239.5 C652,240.4 648.8,241.6 648,242"/>
<path class="l" d="M638.2,208 C638.1,209.5 637.3,214.2 637.5,217 C637.7,219.8 638.4,222.4 639.5,224.5 C640.6,226.6 642.3,228.4 644,229.5 C645.7,230.6 647.7,230.6 649.5,230.8 C651.3,231.1 653.6,230.2 654.8,231 C656,231.8 656.7,233.8 656.8,235.5 C656.9,237.2 656.6,239.6 655.5,241 C654.4,242.4 650.9,243.5 650,244"/>
<path class="f" d="M632.5,245.3 L645,240 L648,244 L645,249 L637,254.5 L633,250.5Z"/>
<path d="M637,246.5 l5,-2.2 M638,249 l5,-2.4 M639.5,251.3 l4,-2" stroke="#fcfcfc" stroke-width="0.8" fill="none"/>
</g>
<text transform="translate(727,188.3) scale(0.824,1)" font-size="24">170</text>
<g id="p140">
<ellipse cx="156.2" cy="386.4" rx="8.2" ry="10.4" transform="rotate(-14 156.2 386.4)" fill="#fcfcfc" stroke="#111" stroke-width="1.9"/>
<path d="M147.6,381.5 Q149.5,377.5 154,376.6 L152.5,380.5 Q150,384 149.6,389 Z" fill="#111"/>
<ellipse cx="160" cy="388.1" rx="7" ry="9.8" transform="rotate(-10 160 388.1)" fill="#111"/>
<ellipse cx="161" cy="388.5" rx="4.9" ry="8.1" transform="rotate(-10 161 388.5)" fill="#fcfcfc"/>
<ellipse cx="160.4" cy="388.9" rx="2.6" ry="3.3" transform="rotate(-10 160.4 388.9)" fill="none" stroke="#111" stroke-width="1.5"/>
</g>
<text transform="translate(112,395.2) scale(0.824,1)" font-size="24">140</text>
<g id="p210">
<g stroke="#111" stroke-width="2" stroke-linejoin="round" stroke-linecap="round" fill="none">
<path d="M149.6,477.2 L152.2,470.4 L157.8,469.6 L163.4,474.8"/>
<path d="M149.6,477.2 L155.6,484.6 M152.6,471.8 L158,476.6"/>
<path d="M158.4,475.8 L171,475.8 L171.4,478 L169.4,489.2 L155.8,491.4 L155.2,488.4 L158.2,476.2"/>
<circle cx="165.2" cy="485" r="4.3" fill="#8a8a8a"/>
</g>
<path d="M162.8,482.5 Q161.6,485 163,487.8" stroke="#fcfcfc" stroke-width="1.3" fill="none"/>
<circle class="f" cx="166" cy="485.5" r="1.6"/>
</g>
<text transform="translate(113,488.2) scale(0.867,1)" font-size="24">210</text>
<g id="p400">
<ellipse class="l" cx="149.4" cy="561.8" rx="20.7" ry="23.5"/>
<path class="l" d="M132.6,572.4 C134.2,570.8 140.3,564.8 142.1,562.5 C143.9,560.2 143.3,560.3 143.4,558.6 C143.5,556.9 142.2,554.5 142.5,552.5 C142.8,550.5 143.9,548.3 145.1,546.9 C146.2,545.5 147.4,544.5 149.4,544.3 C151.4,544.1 156.2,544.6 156.8,545.6 C157.4,546.6 154,549 152.9,550.3 C151.8,551.6 150.5,552.3 150.3,553.4 C150.1,554.5 150.4,555.4 151.6,556.8 C152.8,558.2 155.1,562 157.2,561.6 C159.3,561.2 162.9,555.2 164.2,554.7 C165.5,554.2 165.2,557 165,558.6 C164.8,560.2 164.2,563 163.3,564.6 C162.4,566.2 161.2,567.4 159.8,568.1 C158.4,568.8 156.2,568.7 154.6,569 C153,569.3 152.7,567.8 150.3,569.8 C147.9,571.8 142,579.2 140.3,581.1"/>
</g>
<text transform="translate(94.5,566.2) scale(0.867,1)" font-size="24">400</text>
<g id="p200">
<path class="k" d="M504,367 L501,368 L500,371 L509.5,378.5"/>
<path class="k" d="M504,367 L512.5,373.5"/>
<ellipse class="k" cx="514.6" cy="378.6" rx="5.4" ry="6.9" transform="rotate(-35 514.6 378.6)"/>
<path class="f" d="M514.5,376.5 L518.5,376 L519,380.5 L516.5,383 L514,381Z"/>
</g>
<text transform="translate(498,409) scale(0.867,1)" font-size="24">200</text>
<g id="p290">
<path d="M543,327.6 L570,315.6 L597,303.8" stroke="#111" stroke-width="2.6" stroke-linecap="round" fill="none"/>
<path class="l" d="M597,303.8 C596.9,304.5 596.7,306.6 596.2,308 C595.7,309.4 594.8,310.8 594,312 C593.2,313.2 591.8,314.5 591.4,315"/>
<path class="l" d="M591.4,315 L570,324.6 L551.3,332.9 L547,333.5 L544.5,331.5 L543,327.6"/>
</g>
<text transform="translate(549.5,306.7) scale(0.867,1)" font-size="24">290</text>
<g id="p270">
<path class="l" d="M606.4,425.4 C607.5,424.6 609.5,422.4 612.8,420.6 C616.1,418.8 621.5,416.5 626,414.5 C630.5,412.5 634.3,410.8 640,408.6 C645.7,406.4 653.3,403.6 660,401.2 C666.7,398.8 673.3,396.7 680,394.5 C686.7,392.3 691.9,390.4 700,388 C708.1,385.6 721.7,381.9 728.4,380 C735.1,378.1 735.1,378.2 740,376.9 C744.9,375.6 752,373.6 758,372 C764,370.4 771.8,368.3 776,367.3 C780.2,366.3 780.2,366.3 783.4,366.2 C786.6,366.1 791.6,365.9 795,366.6 C798.4,367.3 801,368.6 803.6,370.2 C806.2,371.8 809.3,374.4 810.8,376 C812.2,377.6 812.4,378.6 812.3,379.6 C812.2,380.6 810.4,381.4 810,381.8"/>
<path class="l" d="M810,381.8 C803.3,384 783.3,390.2 770,394.8 C756.7,399.4 743.3,404.5 730,409.6 C716.7,414.7 698.3,422.2 690,425.6 C681.7,429 685,428 680,430.2 C675,432.4 666.7,436.1 660,439 C653.3,441.9 644.3,446.1 640,447.8 C635.7,449.5 635.3,449.1 634.4,449.4"/>
<path class="l" d="M606.4,425.4 C606.7,426.1 607.1,427.8 608,429.4 C608.9,431 610.2,433.3 611.5,435 C612.8,436.7 613.9,437.9 616,439.8 C618.1,441.7 620.9,444.6 624,446.2 C627.1,447.8 632.7,448.9 634.4,449.4"/>
<path class="t" d="M610.4,425.4 C611.3,424.8 611.1,424.1 616,421.8 C620.9,419.5 629.3,415.3 640,411.4 C650.7,407.5 671.7,401.1 680,398.2 C688.3,395.3 680.1,396.8 690,393.8 C699.9,390.8 727.9,383.2 739.6,380 C751.3,376.8 753.4,376.3 760,374.5 C766.6,372.7 775.8,369.9 779,369"/>
<path class="l" d="M610.6,426.2 C611.2,427.2 612.9,430.2 614.5,432.5 C616.1,434.8 618.1,437.8 620,439.8 C621.9,441.8 624,443.2 626,444.5 C628,445.8 631,447.1 632,447.6"/>
<path class="t" d="M632,447.6 C633.3,447.2 632,448.8 640,445.5 C648,442.2 670,432.3 680,428 C690,423.7 696.7,420.9 700,419.5"/>
<path class="t" d="M758,373.6 C760,373 765.8,371 770,370 C774.2,369 779,368.1 783,367.8 C787,367.5 792.2,368.1 794,368.2"/>
<path class="l" d="M623,423.2 L640.6,415.4 Q643.6,414 644.2,416.6 L644.6,418.6 Q644.6,420 643,420.8 L626.4,428 Q624,428.6 623,426.6 Q621.6,424.2 623,423.2Z"/>
<path class="l" d="M649.2,412 Q651.8,409.6 654.4,412.4 L654.6,432.4 Q654,435 651.2,436 L643,440.2 Q640.6,440.8 638.6,438.2 L636.4,434.6 Q635.4,431.6 638,430.2 L645.2,427 Q647.2,425.8 647.4,423 Z"/>
<path class="t" d="M651.5,413 L650.8,428 L648.5,431.5 L641.5,435"/>
<path class="k" d="M660.6,407 Q660.6,406.2 661.6,406 L665.2,405.2 Q666.6,405 666.6,406.4 L666.8,428.4 Q666.8,429.6 665.6,430.2 L661.8,431.8 Q660.6,432 660.6,430.6Z"/>
<path class="t" d="M661.2,411.6 L666.3,410.4"/>
<path class="t" d="M661.2,415 L666.3,413.8"/>
<path class="l" d="M663.6,415 L663.8,424"/>
<path class="t" d="M661.2,425.4 L666.3,424"/>
<path class="l" d="M672.4,404.6 L692,397.6 Q697,396.6 700.5,399 Q706.5,403.6 709.4,407.8 Q710.2,410.4 707.6,411.6 L675,425.8 Q671.6,426.8 671.2,423.4 L670.6,407.4 Q670.6,405.2 672.4,404.6Z"/>
<path class="l" d="M619.6,452.8 L633,450.4 L634,456.8 L622.8,462.4 L619.6,460Z"/>
<path class="l" d="M624,452.5 L625,460"/>
<path class="t" d="M622,455 L632,452.8"/>
<path class="l" d="M620,446 L621,452"/>
<path class="k" d="M626,448.5 L633,450"/>
</g>
<rect class="r" x="803.5" y="343.9" width="37.3" height="25.3"/>
<text transform="translate(805.6,364.5) scale(0.891,1)" font-size="24">270</text>
<path d="M861,354 L1001,345" stroke="#e63c1a" stroke-width="2.6" fill="none"/>
<path d="M848.6,354.9 L861.8,347.8 L862.6,361.4Z" fill="#e63c1a"/>
<g id="p120">
<path class="l" d="M602.8,499 L603.6,487 L606,484 L610.8,482.4 L630,480 L654,478.4 L660.4,480.8 L666,484.5 L670,486.4 L679.6,485.6 L700,476.5 L719.6,467"/>
<path class="l" d="M719.6,467 C719.8,464.5 719.9,455 721,452 C722.1,449 723.1,450.2 726,448.8 C728.9,447.4 732,445.9 738.5,443.4 C745,440.9 756,437.1 765,434 C774,430.9 786.7,426.3 792.5,424.5 C798.3,422.7 797.8,423.2 800,423 C802.2,422.8 804.3,422.9 806,423.5 C807.7,424.1 809.1,425.2 810,426.5 C810.9,427.8 811.4,429 811.4,431 C811.4,433 810.2,437.2 810,438.5"/>
<path class="l" d="M721,455 L726.8,463 L719.6,467"/>
<path class="k" d="M600,499.5 C601.7,499.8 604.2,501 610,501.5 C615.8,502 626.7,502.5 635,502.5 C643.3,502.5 654.2,502 660,501.5 C665.8,501 666.5,500.6 670,499.5 C673.5,498.4 676,497.1 681,494.6 C686,492.2 691.8,488.6 700,484.8 C708.2,481 720,476.1 730,471.8 C740,467.5 750.8,462.7 760,458.8 C769.2,454.9 777,451.9 785,448.7 C793,445.5 804.2,441.3 808,439.8"/>
<path class="l" d="M600.8,500 C600.4,500.8 598.4,502.8 598.4,504.8 C598.4,506.8 598.9,510.3 600.8,512 C602.7,513.7 606.6,514.2 610,515 C613.4,515.8 616,516.3 621,516.8 C626,517.3 634,517.8 640,518 C646,518.2 652.3,518.3 657,518 C661.7,517.7 664.4,517 668,516 C671.6,515 677,512.7 678.8,512"/>
<path class="k" d="M678.8,512 C683.3,510 696.5,504.2 706,500 C715.5,495.8 727.3,491 736,487 C744.7,483 752,479 758,476 C764,473 764.7,472.4 772,469 C779.3,465.6 797,458 802,455.8"/>
<path class="l" d="M802,455.8 C803,454.8 806.7,452.4 808,449.8 C809.3,447.2 809.5,441.8 809.8,440.2"/>
<path class="l" d="M621,486.5 L634,485 L638.5,489.5 L625,491.5Z"/>
<path class="l" d="M624,487.7 L632.5,486.6 L635.5,489.3 L627,490.5Z"/>
<path class="k" d="M632.5,486.6 L635.5,489.3"/>
<path class="t" d="M605,486.5 L621,486.5"/>
<path class="t" d="M803,430 L805,427.5"/>
</g>
<text transform="translate(817.5,440.2) scale(0.824,1)" font-size="24">120</text>
<g id="p150">
<path class="l" d="M694.8,594.4 L697,590.5 L702,588 L745,576.3 L786.8,564.8 L793,565.6 L806,576 L793,584.8 L766,594.4 L734,604 L698.8,612.8 L695.6,607Z"/>
<path class="l" d="M698.8,597.6 L703.6,593.6 L745,581.5 L788.4,568.8"/>
<path class="l" d="M788.4,568.8 C787.3,569.6 785.2,572 782,573.5 C778.8,575 771.2,576.9 769,577.6"/>
<path class="l" d="M769,577.6 L778.8,585.6"/>
<path class="l" d="M778.8,585.6 L798,579"/>
<path class="l" d="M778.8,585.6 L734,600 L700.4,607 L698.8,597.6"/>
<path class="t" d="M697,609.5 L734,601.8 L780,587.3 L803,578.5"/>
<path class="f" d="M707.6,593.6 L722,589.6 L734,600 L716.4,604Z"/>
</g>
<text transform="translate(724,568) scale(0.824,1)" font-size="24">150</text>
<g id="p450">
<path class="l" d="M535.5,604 C535.8,601.3 536.4,596.3 538,593 C539.6,589.7 543.3,586.7 545,584 C546.7,581.3 546.5,578.8 548,577 C549.5,575.2 552.4,573.8 554,573.5 C555.6,573.2 556.7,574.6 557.5,575.5 C558.3,576.4 557.4,578.1 559,579 C560.6,579.9 564.7,579.5 567,581 C569.3,582.5 571.7,585.2 573,588 C574.3,590.8 574.7,595.5 575,598 C575.3,600.5 574.6,601.8 575,603 C575.4,604.2 577.2,604 577.5,605 C577.8,606 577.2,608.2 576.5,609 C575.8,609.8 574.6,609 573,610 C571.4,611 569.7,613.4 567,615 C564.3,616.6 560.8,618.8 557,619.5 C553.2,620.2 546.7,619 544,619.5 C541.3,620 542.2,622.1 541,622.5 C539.8,622.9 538,622.8 537,622 C536,621.2 534.8,619.3 535,618 C535.2,616.7 537.8,615.5 538,614 C538.2,612.5 536.4,610.7 536,609 C535.6,607.3 535.2,606.7 535.5,604Z"/>
<circle class="k" cx="553.5" cy="580.5" r="1.6"/>
<circle class="l" cx="573" cy="606.5" r="1.9"/>
<circle class="k" cx="540.5" cy="618.5" r="1.8"/>
<path class="k" d="M547,578.5 L545,584"/>
</g>
<text transform="translate(500,609) scale(0.867,1)" font-size="24">450</text>
<g id="p110">
<path class="f" d="M516,659.7 L521.9,660 L527.8,663.6 L533.7,666 L534.8,669.5 L531.9,671.9 L528.4,678.4 L524.8,683.7 L517.7,684 L514.2,676 L510,672.4 L510.6,664.8 L513.6,661.8Z"/>
<path d="M515.6,661 L520.4,661 L517.8,670.2 L512.6,669.6Z M521.6,662.4 L523.6,663.2 L520.4,671.6 L518.4,671Z M524,666.4 L526.6,672.2 L522.4,673Z M517.2,675.6 L519.8,676 L519.6,680 L517.8,679.6Z M526.2,674.8 L527.8,675 L526.6,678 L525.4,677.6Z M520.6,679 L522,679.4 L521.6,682.4 L520.4,682.2Z M529,667.8 L532.6,668 L532.4,669.4 L529.2,669.2Z" fill="#fcfcfc"/>
</g>
<text transform="translate(507,706.5) scale(0.882,1)" font-size="24">110</text>
<g id="p105">
<path class="l" d="M560.3,646.5 C559.8,649.6 557.8,657.8 557,665 C556.2,672.2 555.8,682.3 555.5,690 C555.2,697.7 554.8,705.7 555,711 C555.2,716.3 555.9,718.4 557,722 C558.1,725.6 559.8,729.4 561.6,732.4 C563.4,735.4 565.4,737.8 568,740 C570.6,742.2 574.3,744.3 577.5,745.6 C580.7,746.9 583.9,747.5 587,748 C590.1,748.5 591,749 596,748.3 C601,747.5 610.2,745.3 617,743.5 C623.8,741.7 633.7,738.7 637,737.7"/>
<path class="l" d="M560.3,646.5 L577.5,654"/>
<path class="t" d="M561.5,648.5 L575,654.5"/>
<path d="M577.5,654 L590,644.3 Q598,638 605.4,630 L614.8,620.8" stroke="#111" stroke-width="2.5" stroke-linecap="round" fill="none"/>
<path d="M614.8,620.8 L652.8,684.5 Q656.5,690.5 654.6,697 L652,704" stroke="#111" stroke-width="3.2" stroke-linecap="round" stroke-linejoin="round" fill="none"/>
<path d="M652,704 L645,721 L637,737.7" stroke="#111" stroke-width="2.6" stroke-linecap="round" fill="none"/>
<path class="k" d="M577.5,654 C577,657.5 575.4,668.6 574.5,675 C573.6,681.4 572.9,687.1 572,692.6 C571.1,698.1 569.7,703.2 569,708 C568.3,712.8 567.7,717.7 567.8,721.2 C567.9,724.7 568.7,726.8 569.5,729 C570.3,731.2 571.3,732.6 572.6,734.4 C573.9,736.1 575.7,738.1 577.5,739.5 C579.3,740.9 580.4,741.8 583.4,742.8 C586.4,743.8 589.8,746 595.4,745.6 C601,745.2 610.1,742 617,740.2 C623.9,738.4 633.7,735.9 637,735"/>
<path class="f" d="M627,672.5 L630,675 L633,674.5 L630.5,678 L631.5,682 L628.5,679.5 L625.5,681 L627,677Z"/>
<path class="f" d="M632,652 L636,658.5 L632,661.5 L631,657Z"/>
<path class="l" d="M604.4,708 L643.4,698.4"/>
<path class="t" d="M605.5,705.7 L628,700.3"/>
<path class="t" d="M671,718 L672.5,720.5"/>
</g>
<text transform="translate(664.8,702.2) scale(0.824,1)" font-size="24">105</text>
<g id="p230">
<path class="f" d="M791.9,727.1 L794.2,713.8 L798.8,710.1 L803.4,708.7 L814.4,708.7 L816.2,711.9 L820.4,713.3 L819,720.2 L817.1,723 L796.9,729.4 L793,728.6Z"/>
<path d="M800.6,723.6 L816.5,718 L817,720.2 L800.3,727Z" fill="#fcfcfc"/>
<path d="M812,711.2 l2.6,-0.4 l0.2,1.5 l-2.6,0.5z M812.2,713.6 l2.6,-0.4 l0.2,1.2 l-2.6,0.5z M801.2,714 l3.4,-0.9 l0.3,1.5 l-3.4,1z M806.5,715.4 l2,-1 l0.3,1 l-2,0.9z" fill="#e8e8e8"/>
<path d="M795.4,714.5 L795.2,719.2" stroke="#ddd" stroke-width="0.9" fill="none"/>
</g>
<text transform="translate(825,722.5) scale(0.867,1)" font-size="24">230</text>
<g id="p240">
<path d="M748.2,732 L741.3,733.4 L741.3,743.2 L748.4,741.6" stroke="#111" stroke-width="2.2" stroke-linejoin="round" stroke-linecap="round" fill="none"/>
<path d="M747.6,732.2 Q750,734.5 749.8,741" stroke="#111" stroke-width="2" fill="none"/>
<path d="M746.6,734.5 L747,741.2" stroke="#555" stroke-width="1.5" fill="none"/>
<path class="l" d="M748.2,731.6 L758.6,727.4 Q762,728 763.4,731.5 Q764.2,735 762,737.4 Q760.5,738.8 759,739.2 L750,741.2"/>
</g>
<text transform="translate(705.5,744.7) scale(0.867,1)" font-size="24">240</text>
</g>
</svg>
</body>
</html>
